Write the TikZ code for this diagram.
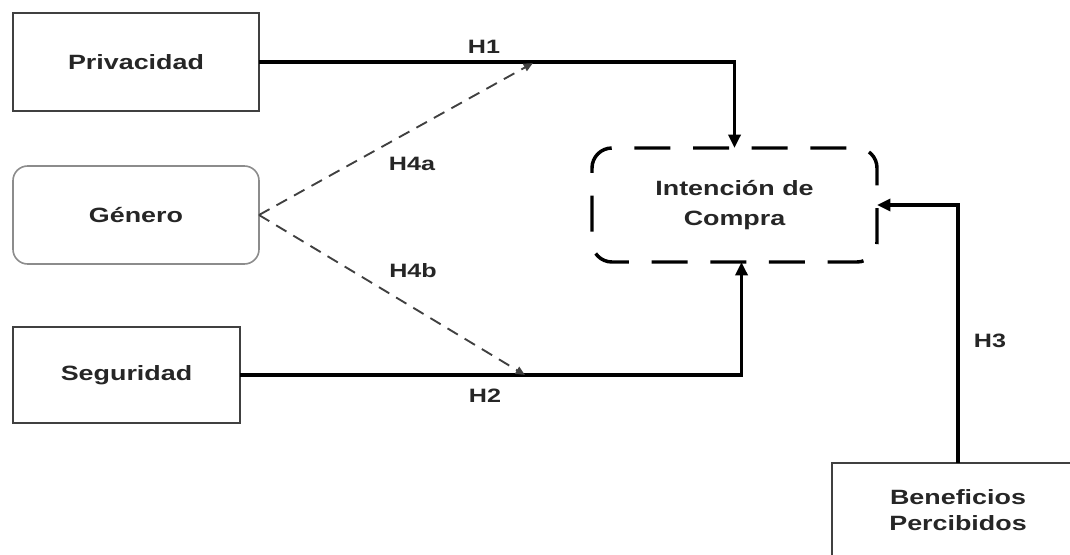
\documentclass[tikz,border=0pt]{standalone}
\usepackage{fontspec}
\setmainfont[FakeStretch=1.3]{Liberation Sans}
\usetikzlibrary{arrows.meta}
\begin{document}
\begin{tikzpicture}[x=0.75pt,y=-0.75pt,
  every node/.style={font=\fontsize{15.5}{20}\selectfont\bfseries, text=black!85},
  box/.style={draw=black!75, line width=1.8pt, inner sep=0pt, outer sep=0pt, align=center},
  softbox/.style={draw=black!45, line width=1.2pt, rounded corners=11pt, inner sep=0pt, outer sep=0pt, align=center},
  dbox/.style={draw=black, line width=2.6pt, rounded corners=15pt, dash pattern=on 27pt off 17pt, dash phase=-8pt, inner sep=0pt, outer sep=0pt, align=center},
  conn/.style={draw=black, line width=2.8pt, -{Triangle[length=10pt,width=9pt]}},
  dconn/.style={draw=black!75, line width=1.4pt, dash pattern=on 9pt off 6pt, -{Triangle[length=7pt,width=6pt]}},
  lbl/.style={font=\fontsize{14.5}{18}\selectfont\bfseries}
]
\useasboundingbox (0,0) rectangle (1070,555);
\clip (0,0) rectangle (1070,555);
\fill[white] (0,0) rectangle (1070,555);

\node[box, minimum width=184.5pt, minimum height=73.5pt] (priv) at (136,62) {Privacidad};
\node[softbox, minimum width=184.5pt, minimum height=73.5pt] (gen) at (136,215) {Género};
\node[box, minimum width=170.25pt, minimum height=72pt] (seg) at (126.5,375) {Seguridad};
\node[dbox, minimum width=213.75pt, minimum height=85.5pt] (int) at (734.5,205) {Intención de\\[2pt]Compra};
\node[box, minimum width=189pt, minimum height=70.5pt, text depth=0pt] (ben) at (958,510) {Beneficios\\Percibidos};

\coordinate (m1) at (533,63);
\coordinate (m2) at (525,375);

\draw[conn] (priv.east) -| (int.north);
\draw[conn] (seg.east) -| ([xshift=5.25pt]int.south);
\draw[conn] (ben.north) |- (int.east);
\draw[dconn] (gen.east) -- (m1);
\draw[dconn] (gen.east) -- (m2);

\node[lbl] (h1) at (484,47) {H1};
\node[lbl] (h4a) at (412,164) {H4a};
\node[lbl] (h4b) at (413,271) {H4b};
\node[lbl] (h2) at (485,396) {H2};
\node[lbl] (h3) at (990,341) {H3};
\end{tikzpicture}
\end{document}
